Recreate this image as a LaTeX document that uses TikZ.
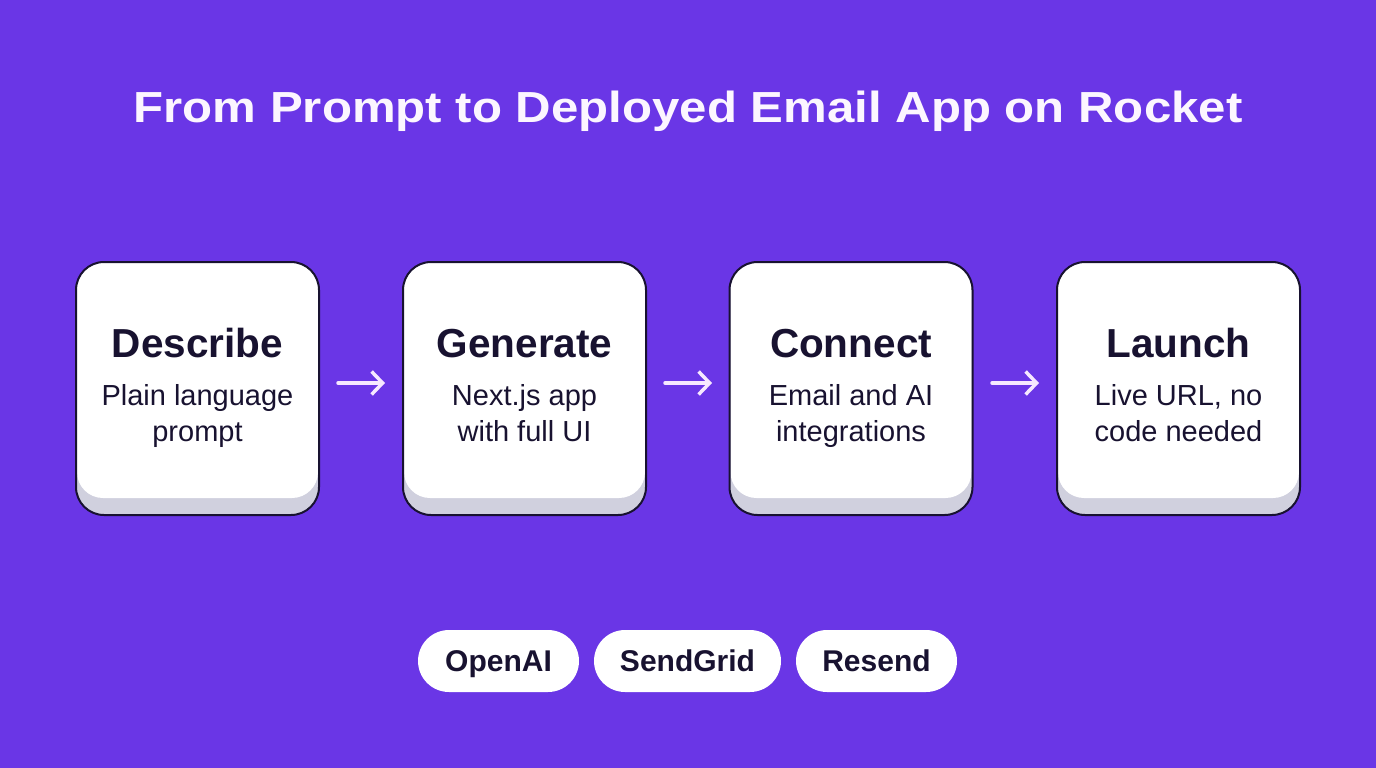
\documentclass[tikz,border=0pt]{standalone}
\usepackage{fontspec}
\setmainfont{Liberation Sans}
\newfontfamily\titlefont[FakeStretch=1.13]{Liberation Sans}
\usetikzlibrary{arrows.meta}
\definecolor{bgpurple}{RGB}{106,54,230}
\definecolor{ink}{RGB}{24,18,48}
\definecolor{boxshade}{RGB}{208,208,222}
\definecolor{arrowc}{RGB}{246,232,255}
\definecolor{titlec}{RGB}{252,246,255}
\tikzset{
  stepbox/.style={draw=ink, line width=2pt, rounded corners=28pt, fill=boxshade,
    minimum width=243pt, minimum height=253pt, inner sep=0pt,
    path picture={\fill[white,rounded corners=26pt]
      ([xshift=1pt,yshift=-1pt]path picture bounding box.north west) rectangle
      ([xshift=-1pt,yshift=17pt]path picture bounding box.south east);}},
  heading/.style={anchor=base, inner sep=0pt, font=\fontsize{40.5}{42}\selectfont\bfseries, text=ink},
  subtext/.style={anchor=base, inner sep=0pt, font=\fontsize{29}{36}\selectfont, text=ink},
  flow/.style={draw=arrowc, line width=3.5pt, -{Straight Barb[length=11pt,width=23pt,line width=3.5pt]}, line cap=round},
  pill/.style={fill=white, rounded corners=31pt, minimum height=62pt, inner sep=0pt,
    text height=21.5pt, text depth=0pt,
    font=\fontsize{30}{32}\selectfont\bfseries, text=ink},
}
\begin{document}
\begin{tikzpicture}[x=1pt,y=-1pt]
\fill[bgpurple] (0,0) rectangle (1376,768);
\useasboundingbox (0,0) rectangle (1376,768);
\node[anchor=base, inner sep=0pt, font=\titlefont\fontsize{43.5}{46}\selectfont\bfseries, text=titlec] (title) at (688,122.5) {From Prompt to Deployed Email App on Rocket};

\node[stepbox] (b1) at (197.5,388.5) {};
\node[stepbox] (b2) at (524.5,388.5) {};
\node[stepbox] (b3) at (851,388.5) {};
\node[stepbox] (b4) at (1178.5,388.5) {};

\node[heading] (h1) at (197.5,357) {Describe};
\node[heading] (h2) at (524.5,357) {Generate};
\node[heading] (h3) at (851,357) {Connect};
\node[heading] (h4) at (1178.5,357) {Launch};

\node[subtext] (s1) at (197.5,405) {Plain language};
\node[subtext] (s1b) at (197.5,441) {prompt};
\node[subtext] (s2) at (524.5,405) {Next.js app};
\node[subtext] (s2b) at (524.5,441) {with full UI};
\node[subtext] (s3) at (851,405) {Email and AI};
\node[subtext] (s3b) at (851,441) {integrations};
\node[subtext] (s4) at (1178.5,405) {Live URL, no};
\node[subtext] (s4b) at (1178.5,441) {code needed};

\coordinate (a1s) at (338,383); \coordinate (a1e) at (385,383);
\coordinate (a2s) at (665,383); \coordinate (a2e) at (712,383);
\coordinate (a3s) at (992,383); \coordinate (a3e) at (1039,383);
\draw[flow] (a1s) -- (a1e);
\draw[flow] (a2s) -- (a2e);
\draw[flow] (a3s) -- (a3e);

\node[pill, minimum width=161pt] (p1) at (498.5,661) {OpenAI};
\node[pill, minimum width=187pt] (p2) at (687.5,661) {SendGrid};
\node[pill, minimum width=161pt] (p3) at (876.5,661) {Resend};
\end{tikzpicture}
\end{document}
